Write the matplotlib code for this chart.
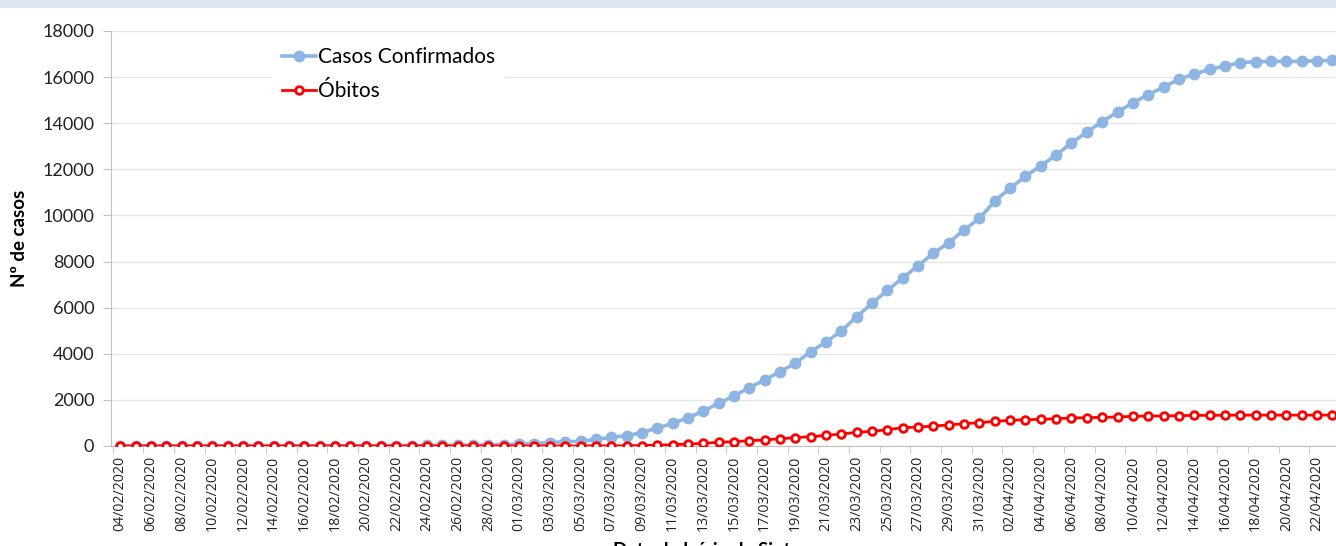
import datetime as dt
import matplotlib
matplotlib.use("Agg")
import matplotlib.pyplot as plt
from matplotlib.patches import Rectangle

start = dt.date(2020, 2, 4)
n_days = 80
dates = [(start + dt.timedelta(days=i)).strftime("%d/%m/%Y") for i in range(n_days)]

confirmados = [
    0, 0, 0, 1, 1, 1, 2, 2, 3, 3,
    4, 5, 6, 7, 9, 10, 12, 14, 17, 20,
    24, 28, 33, 40, 48, 58, 75, 105, 145, 188,
    204, 290, 376, 448, 578, 781, 983, 1214, 1518, 1850,
    2168, 2530, 2862, 3223, 3586, 4090, 4510, 4988, 5608, 6188,
    6752, 7286, 7820, 8357, 8818, 9368, 9875, 10626, 11176, 11696,
    12157, 12621, 13141, 13618, 14065, 14486, 14889, 15236, 15570, 15903,
    16133, 16337, 16480, 16624, 16668, 16682, 16682, 16682, 16711, 16725,
]
obitos = [
    0, 0, 0, 0, 0, 0, 0, 0, 0, 0,
    0, 0, 0, 0, 0, 0, 0, 0, 0, 0,
    0, 0, 0, 0, 0, 0, 0, 0, 1, 1,
    2, 3, 5, 10, 20, 35, 56, 87, 116, 159,
    188, 231, 260, 318, 361, 405, 462, 520, 592, 636,
    708, 795, 820, 867, 911, 968, 1012, 1070, 1113, 1142,
    1156, 1185, 1214, 1229, 1243, 1258, 1287, 1301, 1301, 1316,
    1330, 1330, 1335, 1340, 1340, 1340, 1340, 1340, 1340, 1340,
]
y_ticks = list(range(0, 18001, 2000))

W, H = 1336, 546
fig = plt.figure(figsize=(W / 100, H / 100), dpi=100)
fig.patches.append(Rectangle((0, 1 - 8 / H), 1, 8 / H, transform=fig.transFigure,
                             facecolor="#dce6f2", edgecolor="none", zorder=0))

left, right = 111 / W, 1340 / W
bottom, top = 1 - 446 / H, 1 - 31 / H
ax = fig.add_axes([left, bottom, right - left, top - bottom])

x = list(range(n_days))
ax.plot(x, confirmados, color="#8db4e2", lw=2.6, marker="o", ms=7.5,
        mec="#8db4e2", mfc="#8db4e2", label="Casos Confirmados", zorder=3)
ax.plot(x, obitos, color="#ff0000", lw=2.0, marker="o", ms=5.5,
        mec="#ff0000", mfc="white", mew=2.0, label="Óbitos", zorder=4)

ax.set_xlim(-0.6, 79.5)
ax.set_ylim(0, 18000)
ax.set_yticks(y_ticks)
ax.set_yticklabels([str(v) for v in y_ticks], fontfamily="Lato", fontsize=13, color="#222222")
ax.grid(axis="y", color="#e6e6e6", lw=1)
ax.set_axisbelow(True)

lab_pos = list(range(0, n_days, 2))
ax.set_xticks(lab_pos)
ax.set_xticklabels([dates[i] for i in lab_pos], rotation=90, fontfamily="Open Sans",
                   fontsize=10.2, color="#222222")
ax.set_xticks([i - 0.5 for i in lab_pos], minor=True)
ax.tick_params(axis="x", which="major", length=0, pad=7)
ax.tick_params(axis="x", which="minor", length=5, color="#bfbfbf")
ax.tick_params(axis="y", length=6, color="#bfbfbf", pad=6)

for s in ["top", "right"]:
    ax.spines[s].set_visible(False)
for s in ["left", "bottom"]:
    ax.spines[s].set_color("#bfbfbf")

ax.set_ylabel("Nº de casos", fontfamily="Lato", fontsize=13.5, fontweight="bold", labelpad=10)
fig.text((111 + 1336) / 2 / W, 1 - 551 / H, "Data de Início de Sintomas", ha="center", va="center",
         fontfamily="Lato", fontsize=13.5, fontweight="bold")

leg = ax.legend(loc="upper left", bbox_to_anchor=((272 - 111) / (1340 - 111), 1 - 6 / 415),
                frameon=True, fancybox=False, framealpha=1, edgecolor="white",
                prop={"family": "Lato", "size": 15}, handlelength=1.6, handletextpad=0.1,
                borderpad=0.5, labelspacing=0.65, borderaxespad=0)
leg.get_frame().set_linewidth(0)

fig.savefig("out.png", dpi=100)
